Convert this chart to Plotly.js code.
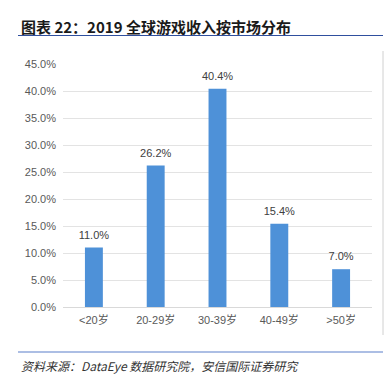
<!DOCTYPE html>
<html>
<head>
<meta charset="utf-8">
<script src="https://cdn.plot.ly/plotly-3.0.1.min.js"></script>
<style>
html,body{margin:0;padding:0;background:#fff;}
#chart{width:392px;height:385px;}
</style>
</head>
<body>
<div id="chart"></div>
<script>
const categories = ["<20岁", "20-29岁", "30-39岁", "40-49岁", ">50岁"];
const shares = [11.0, 26.2, 40.4, 15.4, 7.0];
const tickValues = [0, 5, 10, 15, 20, 25, 30, 35, 40, 45];
const tickLabels = ["0.0%", "5.0%", "10.0%", "15.0%", "20.0%", "25.0%", "30.0%", "35.0%", "40.0%", "45.0%"];
const chartTitle = "图表 22：2019 全球游戏收入按市场分布";
const sourceNote = "资料来源：DataEye 数据研究院，安信国际证券研究";

const W = 392, H = 385;
const L = 63, R = 20, T = 64, B = 78;
const pw = W - L - R, ph = H - T - B;
const px = x => (x - L) / pw;
const py = y => (H - B - y) / ph;

const baseFont = "Liberation Sans, Arial, Noto Sans CJK SC, sans-serif";

const bars = {
  type: "bar",
  x: categories,
  y: shares,
  width: 0.29,
  marker: {color: "#4e91d8"},
  hoverinfo: "none"
};

const labels = {
  type: "scatter",
  mode: "markers+text",
  x: categories,
  y: shares,
  marker: {size: 8, opacity: 0},
  text: shares.map(v => v.toFixed(1) + "%"),
  textposition: "top center",
  textfont: {family: baseFont, size: 11, color: "#404040"},
  cliponaxis: false,
  hoverinfo: "none"
};

const layout = {
  width: W, height: H,
  margin: {l: L, r: R, t: T, b: B, pad: 0},
  paper_bgcolor: "#ffffff",
  plot_bgcolor: "#ffffff",
  showlegend: false,
  xaxis: {
    type: "category",
    showgrid: false,
    showline: false,
    zeroline: false,
    ticks: "",
    tickfont: {family: baseFont, size: 11, color: "#595959"},
    ticklabelstandoff: 5,
    fixedrange: true
  },
  yaxis: {
    range: [0, 45],
    tickvals: tickValues,
    ticktext: tickLabels,
    showgrid: true,
    gridcolor: "#e3e3e3",
    gridwidth: 1,
    zeroline: true,
    zerolinecolor: "#d9d9d9",
    zerolinewidth: 1,
    showline: false,
    ticks: "",
    tickfont: {family: baseFont, size: 11, color: "#595959"},
    ticklabelstandoff: 6,
    fixedrange: true
  },
  shapes: [
    {type: "line", xref: "paper", yref: "paper", x0: px(18), x1: px(383), y0: py(35.5), y1: py(35.5),
     line: {color: "#2f4f9e", width: 1.2}},
    {type: "line", xref: "paper", yref: "paper", x0: px(383), x1: px(383), y0: py(51), y1: py(335),
     line: {color: "#d0d0d0", width: 1}},
    {type: "line", xref: "paper", yref: "paper", x0: px(18), x1: px(383), y0: py(352), y1: py(352),
     line: {color: "#5b7fc9", width: 1.2}}
  ],
  annotations: [
    {xref: "paper", yref: "paper", x: px(19), y: py(26), xanchor: "left", yanchor: "middle",
     text: "<b>" + chartTitle + "</b>", showarrow: false,
     font: {family: "Noto Sans CJK SC, sans-serif", size: 15, color: "#1a1a1a"}},
    {xref: "paper", yref: "paper", x: px(19), y: py(365), xanchor: "left", yanchor: "middle",
     text: "<i>" + sourceNote + "</i>", showarrow: false,
     font: {family: "Noto Sans CJK SC, sans-serif", size: 12, color: "#333333"}}
  ]
};

Plotly.newPlot("chart", [bars, labels], layout, {displayModeBar: false, staticPlot: true});
</script>
</body>
</html>
